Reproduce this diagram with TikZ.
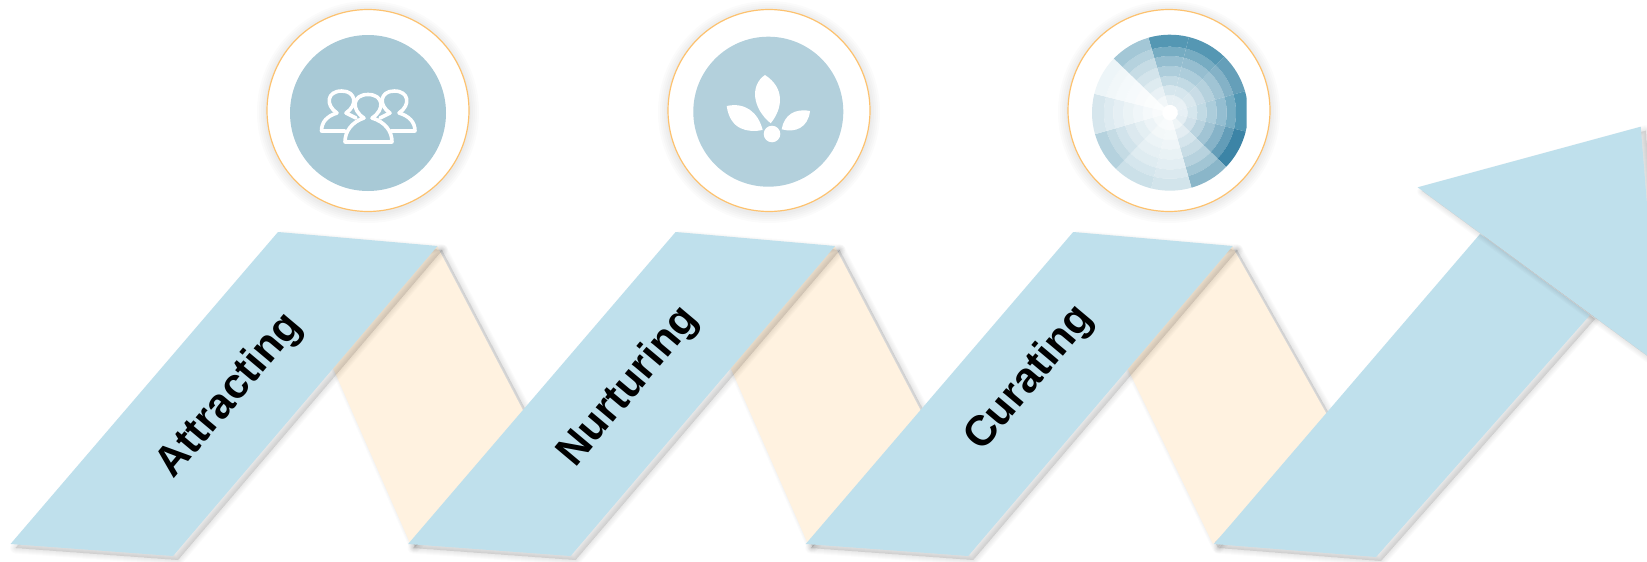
\documentclass[tikz,border=0pt]{standalone}
\usepackage{fontspec}
\setmainfont{Liberation Sans}
\definecolor{ribbon}{HTML}{BFE0EC}
\definecolor{peach}{HTML}{FFF2E0}
\definecolor{ringc}{HTML}{FDC26F}
\definecolor{iconA}{HTML}{A8C9D6}
\definecolor{iconB}{HTML}{B3D0DC}
\newcommand{\softshadow}[1]{%
  \foreach \w in {11,9,7,5,3,1}{%
    \draw[black,draw opacity=.014,fill opacity=.014,line width=\w pt,line join=round,fill=black,shift={(5,4)}] #1;}%
}
\newcommand{\ringglow}[1]{%
  \foreach \r in {111,109,107,105,103}{%
    \fill[black,opacity=.014] (#1)+(0,1.5) circle (\r);}%
  \fill[white,draw=ringc,line width=1.2pt] (#1) circle (101);
}
\newcommand{\radwedge}[2]{% start angle, base colour
  \definecolor{wbase}{HTML}{#2}%
  \foreach \ra/\rb/\op in {8/17.7/14,17.7/27.3/24,27.3/36.7/36,36.7/46.7/48,46.7/56.7/62,56.7/66/80,66/78/100}{%
    \fill[wbase!\op!white] (#1:\ra) -- (#1:\rb) arc[start angle=#1,end angle=#1+30,radius=\rb] -- (#1+30:\ra) arc[start angle=#1+30,end angle=#1,radius=\ra] -- cycle;}%
}
\tikzset{
  steplabel/.style={font=\fontsize{42.5}{50}\selectfont\bfseries,text=black,rotate=50,inner sep=0pt,anchor=center},
  person/.style={draw=white,line width=3.6pt,line join=round,line cap=round},
}
\begin{document}
\begin{tikzpicture}[x=1pt,y=-1pt]
\clip (0,0) rectangle (1647,562);
\fill[white] (0,0) rectangle (1647,562);
% circles
\ringglow{368,110.5}
\ringglow{769,110.5}
\ringglow{1169,110.5}
\fill[iconA] (368,113) circle (78);
\fill[iconB] (768.3,111.7) circle (75);
% people icon
\draw[person] (337,113) .. controls (327,116) and (321.5,122) .. (321.5,131) -- (345,131);
\draw[person] (337,113) .. controls (325,105) and (327,91) .. (341.7,91) .. controls (356,91) and (358,105) .. (346,113) -- (356,118);
\draw[person] (399,113) .. controls (409,116) and (415,122) .. (415,131) -- (391,131);
\draw[person] (399,113) .. controls (411,105) and (409,91) .. (394.3,91) .. controls (380,91) and (378,105) .. (390,113) -- (380,118);
\draw[person,fill=iconA] (364,118) .. controls (352,122) and (345,131) .. (345,142) -- (392,142) .. controls (392,131) and (385,122) .. (372,118) .. controls (385,110) and (384,94.5) .. (368,94.5) .. controls (352,94.5) and (351,110) .. (364,118) -- cycle;
% leaf icon
\fill[white] (765,75) .. controls (750,85) and (752,108) .. (770.7,123.3) .. controls (783,108) and (785,88) .. cycle;
\fill[white] (726.7,106) .. controls (745,102) and (758,112) .. (762.7,130) .. controls (748,133) and (730,130) .. cycle;
\fill[white] (810,111) .. controls (795,108) and (784,115) .. (781.7,129.3) .. controls (795,133) and (808,128) .. cycle;
\fill[white] (772,134) circle (8.3);
% radial wedge icon
\begin{scope}
\clip (1085,30) rectangle (1246.7,195);
\begin{scope}[shift={(1170,112.7)},y=1pt]
\radwedge{76}{5497B3}
\radwedge{46}{5597B3}
\radwedge{16}{659FB9}
\radwedge{-14}{5297B4}
\radwedge{-44}{3C84A6}
\radwedge{-74}{8AB6C9}
\radwedge{-104}{D2E4EB}
\radwedge{-134}{CBE0E8}
\radwedge{-164}{B5D2DE}
\radwedge{166}{D6E6ED}
\radwedge{136}{EDF5F8}
\radwedge{106}{A3C7D6}
\end{scope}
\end{scope}
% peach folds
\foreach \dx in {0,397.6}{
  \begin{scope}[xshift=\dx pt]
    \softshadow{(437,246) -- (526,416) -- (410,543) -- (330,361) -- cycle}
    \fill[peach] (437,246) -- (526,416) -- (410,543) -- (330,361) -- cycle;
  \end{scope}
}
\softshadow{(1232,246) -- (1330,420) -- (1213,544) -- (1124,361) -- cycle}
\fill[peach] (1232,246) -- (1330,420) -- (1213,544) -- (1124,361) -- cycle;
% blue ribbons
\foreach \dx in {0,397.6,795.2}{
  \begin{scope}[xshift=\dx pt]
    \softshadow{(278,232) -- (437.5,246) -- (173,556) -- (10.5,544) -- cycle}
    \fill[ribbon] (278,232) -- (437.5,246) -- (173,556) -- (10.5,544) -- cycle;
  \end{scope}
}
% arrow
\softshadow{(1480,234) -- (1590,315) -- (1376,557) -- (1214,544) -- cycle}
\fill[ribbon] (1480,234) -- (1590,315) -- (1376,557) -- (1214,544) -- cycle;
\softshadow{(1640.7,126.7) -- (1417.7,187.3) -- (1660,365) -- cycle}
\fill[ribbon] (1640.7,126.7) -- (1417.7,187.3) -- (1660,365) -- cycle;
% labels
\node[steplabel] (attracting) at (230,396) {Attracting};
\node[steplabel] (nurturing) at (629,387) {Nurturing};
\node[steplabel] (curating) at (1030,379) {Curating};
\end{tikzpicture}
\end{document}
